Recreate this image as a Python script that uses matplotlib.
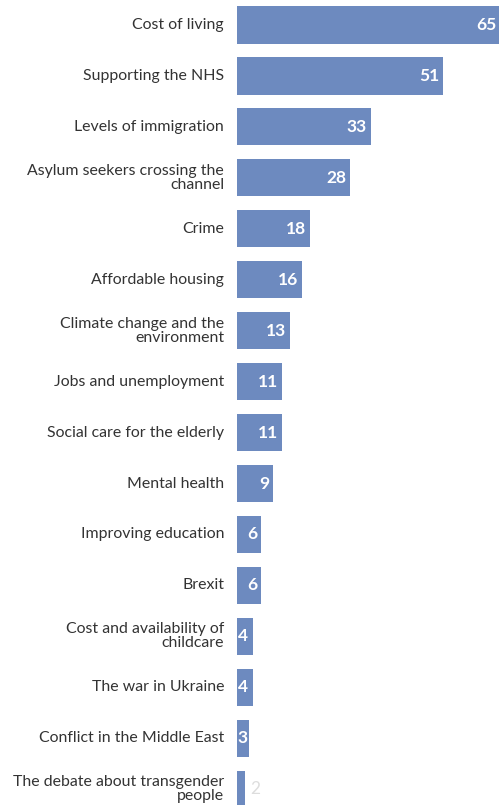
import matplotlib.pyplot as plt

# Data
issues = [
    "Cost of living",
    "Supporting the NHS",
    "Levels of immigration",
    "Asylum seekers crossing the\nchannel",
    "Crime",
    "Affordable housing",
    "Climate change and the\nenvironment",
    "Jobs and unemployment",
    "Social care for the elderly",
    "Mental health",
    "Improving education",
    "Brexit",
    "Cost and availability of\nchildcare",
    "The war in Ukraine",
    "Conflict in the Middle East",
    "The debate about transgender\npeople",
]
values = [65, 51, 33, 28, 18, 16, 13, 11, 11, 9, 6, 6, 4, 4, 3, 2]

bar_color = "#6d8abf"
plt.rcParams['font.family'] = ['Lato', 'DejaVu Sans']

fig = plt.figure(figsize=(4.99, 8.05), dpi=100)
ax = fig.add_axes([0.475, 0, 0.527, 1])

pos = list(range(len(values)))
ax.barh(pos, values, height=0.73, color=bar_color)
ax.set_xlim(0, 65)
ax.set_ylim(15.31, -0.49)

for p, v, name in zip(pos, values, issues):
    # category label, right aligned next to the bars
    ax.text(-3.2, p, name, ha='right', va='center', fontsize=11.4,
            color='#333333', linespacing=1.0)
    if v >= 5:
        ax.text(v - 0.9, p, str(v), ha='right', va='center', fontsize=12.5,
                fontweight='bold', color='white')
    elif v >= 3:
        ax.text(0.15, p, str(v), ha='left', va='center', fontsize=12.5,
                fontweight='bold', color='white')
    else:
        ax.text(v + 1.2, p, str(v), ha='left', va='center', fontsize=12.5,
                color='#dddddd')

ax.axis('off')
fig.savefig("out.png", dpi=100)
